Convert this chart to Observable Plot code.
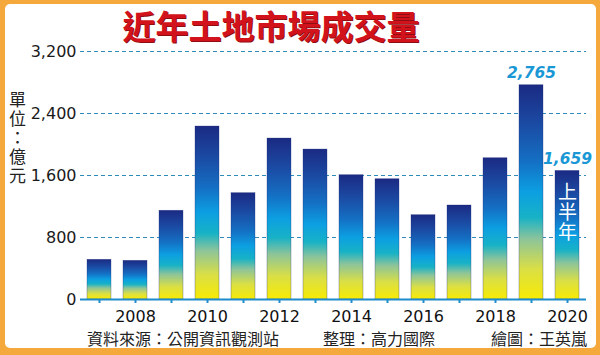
<!DOCTYPE html>
<html><head><meta charset="utf-8">
<script src="https://cdn.jsdelivr.net/npm/d3@7"></script>
<script src="https://cdn.jsdelivr.net/npm/@observablehq/plot@0.6"></script>
<style>
body{margin:0;background:#fff;}
#wrap{position:relative;width:600px;height:355px;background:#f5a83c;overflow:hidden;}
#inner{position:absolute;left:5px;top:4px;right:4px;bottom:7px;background:#fff;border-radius:5px;}
#chart{position:absolute;left:0;top:0;}
.t{position:absolute;font-family:"Noto Sans CJK TC",sans-serif;white-space:nowrap;line-height:1;}
#title{left:0;width:542px;text-align:center;top:9px;font-size:33px;font-weight:bold;color:#d3131b;text-shadow:1px 1px 0 #8e0d12;}
#unit{left:9px;top:91px;font-size:17px;color:#222;writing-mode:vertical-rl;letter-spacing:2px;}
.foot{top:330px;font-size:16px;color:#222;}
</style></head><body>
<div id="wrap">
<div id="inner"></div>
<div id="chart"></div>
<div class="t" id="title">近年土地市場成交量</div>
<div class="t" id="unit">單位：億元</div>
<div class="t foot" style="left:87px">資料來源：公開資訊觀測站</div>
<div class="t foot" style="left:323px">整理：高力國際</div>
<div class="t foot" style="left:491px">繪圖：王英嵐</div>
</div>
<script>
const years = [2007, 2008, 2009, 2010, 2011, 2012, 2013, 2014, 2015, 2016, 2017, 2018, 2019, 2020];
const values = [512, 499, 1145, 2232, 1372, 2077, 1935, 1604, 1552, 1088, 1213, 1823, 2765, 1659];
const yTicks = [0, 800, 1600, 2400, 3200];
const gridTicks = [800, 1600, 2400, 3200];
const labelYears = [2019, 2020];
const labelTexts = ["2,765", "1,659"];
const partialYear = 2020;
const partialText = "上半年";

const data = years.map((year, i) => ({year, value: values[i]}));
const labels = labelYears.map((year, i) => ({year, value: values[years.indexOf(year)], label: labelTexts[i]}));
const partial = [{year: partialYear, value: values[years.indexOf(partialYear)], label: partialText}];

const stops = [
  [0, "#1b2a83"], [0.18, "#1b4aa3"], [0.36, "#1470c4"], [0.5, "#0c9fe2"],
  [0.62, "#18b2c6"], [0.72, "#8cc49a"], [0.86, "#dadf45"], [1, "#f8eb04"]
];
function gradientDefs() {
  const ns = "http://www.w3.org/2000/svg";
  const defs = document.createElementNS(ns, "defs");
  const g = document.createElementNS(ns, "linearGradient");
  g.setAttribute("id", "barGrad");
  g.setAttribute("x1", "0"); g.setAttribute("y1", "0");
  g.setAttribute("x2", "0"); g.setAttribute("y2", "1");
  for (const [o, c] of stops) {
    const s = document.createElementNS(ns, "stop");
    s.setAttribute("offset", o);
    s.setAttribute("stop-color", c);
    g.appendChild(s);
  }
  defs.appendChild(g);
  return defs;
}

const chart = Plot.plot({
  width: 600,
  height: 355,
  marginTop: 51,
  marginBottom: 56,
  marginLeft: 80,
  marginRight: 14,
  style: {background: "transparent", fontFamily: "DejaVu Sans"},
  x: {type: "band", domain: years, paddingInner: 0.336, paddingOuter: 0.17, align: 0.5},
  y: {domain: [0, 3200]},
  marks: [
    gradientDefs,
    Plot.ruleY(gridTicks, {stroke: "#2f8cba", strokeWidth: 1.2, strokeDasharray: "4,3"}),
    Plot.barY(data, {x: "year", y: "value", fill: "url(#barGrad)", stroke: "#1b2a78", strokeWidth: 0.6, strokeOpacity: 0.5}),
    Plot.ruleY([0], {stroke: "#1e8ccc", strokeWidth: 2}),
    Plot.axisY({ticks: yTicks, tickSize: 0, tickPadding: 4, tickFormat: d3.format(","), fontSize: 16, fill: "#1a1a1a", label: null}),
    Plot.axisX({tickSize: 4, tickPadding: 7, stroke: "#1e8ccc", strokeWidth: 2, fill: "#111", fontSize: 16, label: null,
      tickFormat: d => d % 2 === 0 ? String(d) : ""}),
    Plot.text(labels, {x: "year", y: "value", text: "label", dy: -12, fill: "#1a98d5", fontSize: 15.5,
      fontWeight: "bold", fontStyle: "italic", fontFamily: "DejaVu Sans"}),
    Plot.text(partial, {x: "year", y: "value", text: "label", textAnchor: "start", dy: 5,
      fill: "white", fontSize: 19, fontFamily: "Noto Sans CJK TC"})
  ]
});
// stack the "上半年" note vertically, as in the reference
d3.select(chart).selectAll("text").filter(function() { return this.textContent === partialText; })
  .style("writing-mode", "vertical-rl").style("letter-spacing", "1px").attr("dy", null);
document.getElementById("chart").appendChild(chart);
</script>
</body></html>
